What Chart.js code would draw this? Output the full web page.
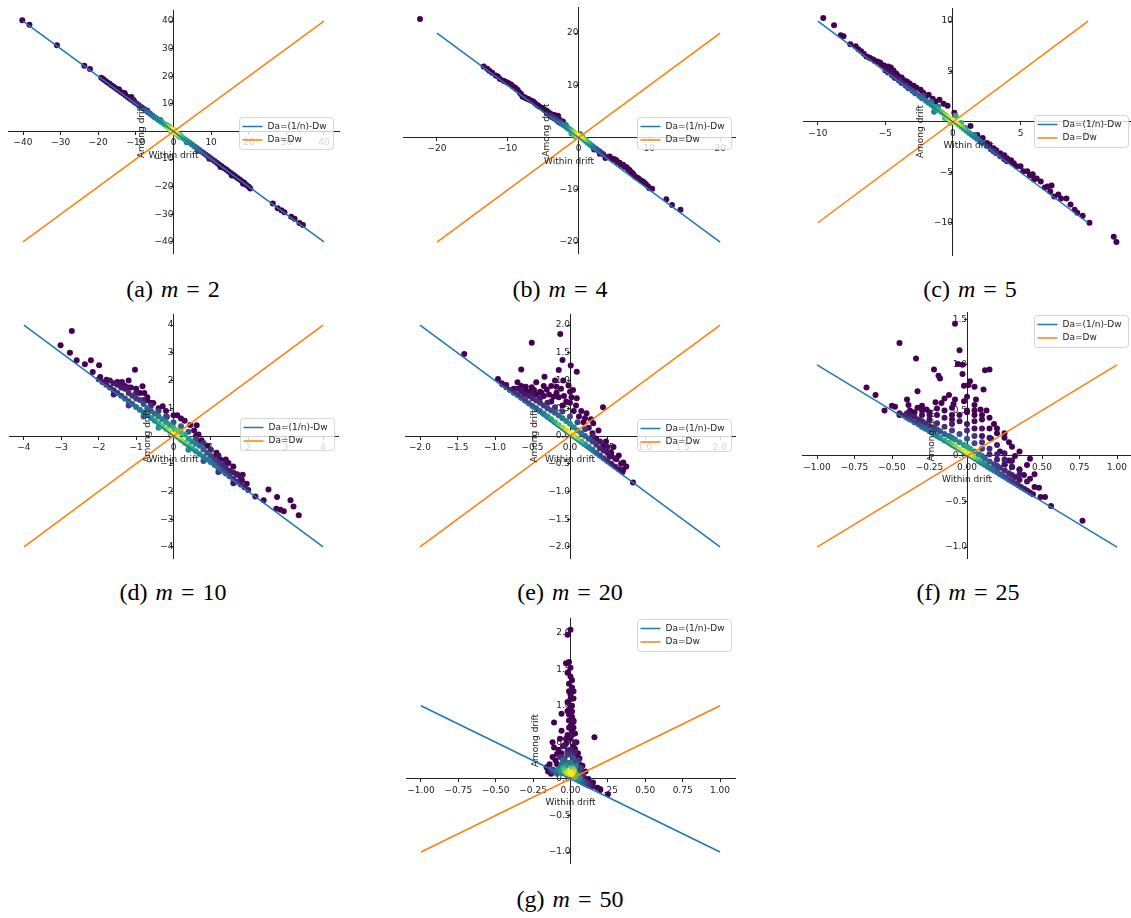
<!DOCTYPE html>
<html>
<head>
<meta charset="utf-8">
<script src="https://cdn.jsdelivr.net/npm/chart.js@4.4.0/dist/chart.umd.min.js"></script>
<style>
html, body { margin: 0; padding: 0; background: #fff; width: 1131px; height: 918px; overflow: hidden; position: relative; }
canvas { position: absolute; }
.cap { position: absolute; font-family: "Liberation Serif", serif; font-size: 24px; word-spacing: 2px;
       transform: translate(-50%, -50%); white-space: nowrap; color: #000; }
</style>
</head>
<body>
<script>
// ---- data ----
const panelTags = ["(a)", "(b)", "(c)", "(d)", "(e)", "(f)", "(g)"];
const mValues = [2, 4, 5, 10, 20, 25, 50];
const lineNames = ["Da=(1/n)-Dw", "Da=Dw"];
const axisNames = ["Within drift", "Among drift"];
const lineSpan = [40, 20, 10, 4, 2, 1, 1];

const xRange = [[-44, 44], [-24.8, 22.1], [-11.1, 13.4], [-4.4, 4.4], [-2.2, 2.2], [-1.1, 1.1], [-1.1, 1.1]];
const yRange = [[-44, 44], [-22.1, 25.0], [-13.2, 11.3], [-4.4, 4.4], [-2.2, 2.2], [-1.12, 1.58], [-1.15, 2.2]];
const xTicks = [
  [-40, -30, -20, -10, 0, 10, 20, 30, 40],
  [-20, -10, 0, 10, 20],
  [-10, -5, 0, 5, 10],
  [-4, -3, -2, -1, 0, 1, 2, 3, 4],
  [-2, -1.5, -1, -0.5, 0, 0.5, 1, 1.5, 2],
  [-1, -0.75, -0.5, -0.25, 0, 0.25, 0.5, 0.75, 1],
  [-1, -0.75, -0.5, -0.25, 0, 0.25, 0.5, 0.75, 1]
];
const yTicks = [
  [-40, -30, -20, -10, 0, 10, 20, 30, 40],
  [-20, -10, 0, 10, 20],
  [-10, -5, 0, 5, 10],
  [-4, -3, -2, -1, 0, 1, 2, 3, 4],
  [-2, -1.5, -1, -0.5, 0, 0.5, 1, 1.5, 2],
  [-1, -0.5, 0, 0.5, 1, 1.5],
  [-1, -0.5, 0, 0.5, 1, 1.5, 2]
];
const xDec = [0, 0, 0, 0, 1, 2, 2];
const yDec = [0, 0, 0, 0, 1, 1, 1];

// points: [within drift, among drift, density level 0..1 (omitted = 0)]
const ptsA = [
  [-40.2,40.3],[-38.3,38.7],[-31.0,31.2],[-23.7,23.8],[-22.2,22.6],
  [-19.2,19.5],[-18.7,19.0],[-18.2,18.5],[-17.6,17.8],[-17.0,17.3],[-16.4,16.7],[-15.8,16.1],[-15.2,15.5],
  [-14.6,14.9],[-14.0,14.3],[-13.4,13.8],[-12.8,13.1],[-12.2,12.5],[-11.2,12.5],[-11.6,11.9],[-14.5,15.3],[-13.0,13.9],
  [-11.0,11.3,0.05],[-10.4,10.7,0.06],[-9.8,10.1,0.08],[-9.2,9.5,0.1],[-8.6,8.9,0.12],[-8.0,8.3,0.15],
  [-7.4,7.7,0.2],[-6.8,7.0,0.25],[-6.2,6.4,0.3],[-5.6,5.8,0.35],[-5.0,5.2,0.4],[-4.4,4.6,0.45],[-3.8,4.0,0.5],
  [-3.2,3.4,0.55],[-2.6,2.8,0.62],[-2.0,2.2,0.7],[-1.5,1.7,0.8],[-1.0,1.2,0.88],[-0.5,0.7,0.95],[0.0,0.2,1.0],
  [0.5,-0.3,0.95],[1.0,-0.8,0.88],[1.5,-1.3,0.8],[2.0,-1.8,0.7],[2.6,-2.4,0.62],[3.2,-3.0,0.55],[3.8,-3.6,0.5],
  [4.4,-4.2,0.45],[5.0,-4.8,0.4],[5.6,-5.4,0.35],[6.2,-6.0,0.3],[6.8,-6.6,0.25],[7.4,-7.2,0.2],[8.0,-7.8,0.15],
  [8.6,-8.4,0.12],[9.2,-9.0,0.1],[9.8,-9.6,0.08],[10.4,-10.2,0.06],[11.0,-10.8,0.05],
  [-10.6,11.4,0.03],[-7.0,7.6,0.1],[-3.5,4.2,0.3],[-1.2,1.8,0.6],[0.4,0.4,0.7],[-0.8,0.5,0.75],[1.6,-1.9,0.6],
  [3.5,-3.9,0.35],[6.5,-6.9,0.15],[9.5,-9.9,0.05],
  [-0.3,0.6,0.97],[0.3,0.0,0.97],[-0.7,0.9,0.9],[0.7,-0.5,0.9],[-0.2,-0.1,0.85],[-1.0,0.8,0.75],[1.0,-1.2,0.7],
  [-1.8,2.3,0.6],[1.8,-1.4,0.6],
  [11.6,-11.4],[12.2,-12.0],[12.8,-12.6],[13.4,-13.2],[14.0,-13.8],[14.6,-14.4],[15.2,-15.0],[15.8,-15.6],
  [16.4,-16.2],[17.0,-16.8],[17.6,-17.4],[18.2,-18.0],[18.8,-18.6],[19.4,-19.4],[20.0,-20.0],[20.4,-20.6],
  [12.5,-12.9],[15.5,-15.9],[18.5,-18.9],
  [26.4,-26.1],[27.7,-27.8],[28.7,-28.5],[29.5,-29.2],[31.3,-30.9],[32.2,-31.6],[33.5,-33.1],[34.4,-33.9]
];
const ptsB = [
  [-22.4,22.7],[-13.4,13.6],[-12.6,12.8],[-11.1,11.2],[-10.6,10.9],[-10.0,10.5],[-9.5,10.1],[-9.0,9.6],
  [-8.6,9.1],[-7.9,7.8],[-7.4,7.5],[-6.9,7.2],[-6.4,6.9],[-5.9,6.3],[-5.5,5.9],[-5.0,5.5],[-4.6,5.2],
  [-4.0,4.6],[-3.4,4.3],[-2.9,4.2],[-2.2,3.1],
  [-12.9,13.2],[-12.2,12.4],[-11.7,11.9],[-11.4,11.7],[-10.3,10.7],[-9.8,10.3],[-9.3,9.8],[-8.8,9.3],
  [-8.3,8.6],[-8.1,8.3],[-7.6,7.7],[-7.1,7.4],[-6.6,7.0],[-6.2,6.6],[-5.7,6.1],[-5.2,5.7],[-4.8,5.3],
  [-4.3,4.9],[-3.7,4.3],[-3.2,3.9],[-2.7,3.4],
  [-4.5,4.7,0.05],[-4.0,4.2,0.1],[-3.5,3.7,0.15],[-3.0,3.2,0.2],[-2.5,2.7,0.3],[-2.0,2.3,0.4],[-1.6,1.9,0.5],
  [-1.2,1.5,0.6],[-0.8,1.1,0.75],[-0.4,0.7,0.9],[0.0,0.3,1.0],[0.4,-0.1,0.95],[0.8,-0.5,0.8],[1.2,-0.9,0.65],
  [1.6,-1.3,0.5],[2.0,-1.7,0.38],[2.5,-2.2,0.25],[3.0,-2.7,0.15],[3.5,-3.2,0.1],[4.0,-3.7,0.05],
  [-3.8,3.95,0.12],[-3.2,3.45,0.18],[-2.8,2.95,0.25],[-2.2,2.5,0.35],[-1.8,2.1,0.45],[-1.4,1.7,0.55],
  [-1.0,1.3,0.68],[-0.6,0.9,0.82],[-0.2,0.5,0.95],[0.2,0.1,0.98],[0.6,-0.3,0.88],[1.0,-0.7,0.72],
  [1.4,-1.1,0.58],[1.8,-1.5,0.45],[2.2,-1.95,0.3],[2.8,-2.5,0.2],[3.2,-2.95,0.12],
  [-1.0,0.8,0.55],[-0.5,0.3,0.7],[0.5,0.2,0.6],[1.0,-0.4,0.55],[-1.8,2.4,0.3],[-2.6,3.0,0.15],[0.2,0.7,0.5],
  [2.2,-2.3],[3.0,-3.1],[3.8,-3.9],[4.4,-3.6],[5.0,-4.1],[5.3,-4.3],[5.8,-4.8],[6.3,-5.2],[6.8,-5.7],
  [7.2,-6.2],[7.6,-6.8],[8.0,-7.5],[8.5,-7.9],[9.1,-8.4],[9.5,-8.9],[10.0,-9.7],[10.4,-9.8],
  [4.8,-4.2],[5.5,-4.7],[6.0,-5.2],[6.5,-5.6],[7.0,-6.1],[7.4,-6.6],[7.8,-7.1],[8.3,-7.7],[8.8,-8.2],
  [9.3,-8.7],[9.8,-9.3],
  [12.4,-11.8],[13.2,-12.9],[14.4,-13.8]
];
const ptsC = [
  [-9.6,10.3],[-8.8,9.6],[-8.3,8.6],[-8.1,8.5],[-7.2,7.5],[-6.8,7.0],[-6.4,6.5],[-6.1,6.3],[-5.9,6.2],
  [-5.6,6.0],[-5.4,5.9],[-5.1,5.6],[-4.8,5.5],[-4.6,5.4],[-4.4,5.1],[-4.1,4.6],[-3.8,4.4],[-3.4,4.0],
  [-2.9,3.6],[-2.4,3.2],[-1.8,2.7],[-1.0,2.2],[-0.4,1.6],[0.1,0.9],
  [-6.6,6.75],[-6.2,6.4],[-5.8,6.05],[-5.3,5.7],[-5.0,5.4],[-4.7,5.2],[-4.2,4.8],[-3.9,4.4],[-3.6,4.1],
  [-3.2,3.8],[-2.7,3.4],[-2.2,2.9],[-2.0,2.6],[-1.5,2.3],[-1.3,2.0],[-0.7,1.8],[-7.0,7.2],[-7.6,7.7],
  [-5.0,5.1,0.03],[-4.5,4.6,0.06],[-4.0,4.1,0.1],[-3.5,3.6,0.15],[-3.0,3.1,0.22],[-2.5,2.6,0.3],[-2.0,2.1,0.4],
  [-1.6,1.7,0.5],[-1.2,1.3,0.6],[-0.8,0.9,0.75],[-0.4,0.5,0.9],[0.0,0.1,1.0],[0.4,-0.3,0.9],[0.8,-0.7,0.72],
  [1.2,-1.1,0.55],[1.6,-1.5,0.42],[2.0,-1.9,0.3],[2.5,-2.4,0.2],[3.0,-2.9,0.12],[3.5,-3.4,0.07],[4.0,-3.9,0.03],
  [-4.8,4.9,0.05],[-4.3,4.35,0.08],[-3.8,3.85,0.12],[-3.3,3.35,0.18],[-2.8,2.85,0.26],[-2.3,2.35,0.35],
  [-1.8,1.9,0.45],[-1.4,1.5,0.55],[-1.0,1.1,0.68],[-0.6,0.7,0.82],[-0.2,0.3,0.95],[0.2,-0.1,0.95],
  [0.6,-0.5,0.8],[1.0,-0.9,0.63],[1.4,-1.3,0.48],[1.8,-1.7,0.36],[2.2,-2.1,0.25],[2.8,-2.7,0.15],
  [3.2,-3.1,0.1],[3.8,-3.7,0.05],[-1.6,2.0,0.35],[-1.1,1.5,0.45],[-2.2,2.6,0.2],[0.9,-0.6,0.5],[1.6,-1.3,0.35],
  [-0.6,0.4,0.7],[0.2,0.6,0.6],[-1.4,1.0,0.45],[0.6,-0.1,0.65],[-0.2,-0.1,0.8],
  [1.3,-0.4],[1.8,-1.3],[2.5,-2.1],[3.0,-2.6],[3.5,-3.1],[4.0,-3.6],[4.5,-4.1],[5.0,-4.4],[5.5,-4.9],
  [5.9,-5.2],[6.2,-5.6],[6.5,-5.9],[7.0,-6.4],[7.3,-6.3],[7.5,-7.4],[7.8,-7.2],[8.4,-7.6],[9.2,-9.0],
  [4.2,-3.9],[4.7,-4.4],[5.2,-4.9],[5.7,-5.3],[6.0,-5.7],[6.8,-6.5],[7.2,-6.9],[8.0,-7.6],[8.7,-8.2],
  [9.0,-8.7],[9.6,-9.3],[2.2,-1.6],[2.7,-2.3],[3.2,-2.8],[3.8,-3.3],[4.3,-3.8],
  [10.1,-10.0],[11.9,-11.4],[12.1,-11.9]
];
const ptsD = [
  [-2.72,3.79],[-3.02,3.27],[-2.77,3.0],[-2.59,2.73],[-2.37,2.59],[-2.21,2.73],[-2.16,2.31],[-1.99,2.55],
  [-1.96,2.13],[-1.79,2.03],[-1.38,1.95],[-1.03,2.39],[-1.14,1.75],[-0.83,1.79],[-0.78,1.55],[-0.71,1.29],
  [-0.54,1.19],[-0.29,1.07],[-0.18,0.69],[0.2,0.63],[0.0,0.75],[0.62,0.39],[0.67,0.05],[0.67,-0.22],
  [1.07,-0.76],[1.25,-0.85],[1.47,-0.97],[1.70,-1.38],[1.83,-1.6],[1.96,-1.72],[2.19,-2.18],[2.41,-2.32],
  [2.54,-1.93],[2.77,-2.2],[2.75,-2.62],[2.86,-2.66],[2.95,-2.71],[3.13,-2.32],[3.21,-2.54],[3.35,-2.86],
  [-1.5,1.95],[-1.3,1.8],[-1.2,2.0],[-1.0,1.7],[-0.9,1.55],[-0.7,1.4],[-0.6,1.2],[-0.4,1.0],[-0.2,0.9],
  [0.1,0.75],[0.3,0.55],[0.45,0.4],[0.55,0.2],[0.6,0.0],[0.75,-0.15],[0.9,-0.35],[1.15,-0.6],[1.4,-0.85],
  [1.6,-1.1],[1.85,-1.4],
  [-2.0,2.05,0.05],[-1.8,1.85,0.08],[-1.6,1.65,0.12],[-1.4,1.45,0.18],[-1.2,1.25,0.25],[-1.0,1.05,0.33],
  [-0.8,0.85,0.42],[-0.6,0.65,0.52],[-0.4,0.45,0.65],[-0.2,0.25,0.8],[0.0,0.05,1.0],[0.2,-0.15,0.85],
  [0.4,-0.35,0.68],[0.6,-0.55,0.55],[0.8,-0.75,0.45],[1.0,-0.95,0.36],[1.2,-1.15,0.28],[1.4,-1.35,0.2],
  [1.6,-1.55,0.14],[1.8,-1.75,0.08],[2.0,-1.95,0.05],
  [-1.9,1.95,0.06],[-1.7,1.75,0.1],[-1.5,1.55,0.15],[-1.3,1.35,0.22],[-1.1,1.15,0.29],[-0.9,0.95,0.38],
  [-0.7,0.75,0.47],[-0.5,0.55,0.58],[-0.3,0.35,0.72],[-0.1,0.15,0.9],[0.1,-0.05,0.95],[0.3,-0.25,0.76],
  [0.5,-0.45,0.6],[0.7,-0.65,0.5],[0.9,-0.85,0.4],[1.1,-1.05,0.32],[1.3,-1.25,0.24],[1.5,-1.45,0.17],
  [1.7,-1.65,0.11],[1.9,-1.85,0.06],
  [-1.7,2.0,0.05],[-1.5,1.85,0.06],[-1.3,1.7,0.08],[-1.1,1.45,0.15],[-0.9,1.3,0.18],[-0.7,1.0,0.3],
  [-0.5,0.8,0.35],[-0.3,0.6,0.45],[-0.1,0.4,0.55],[0.1,0.2,0.75],[0.3,0.05,0.6],[0.5,-0.2,0.45],
  [0.7,-0.35,0.35],[0.9,-0.6,0.25],[1.1,-0.85,0.18],[1.3,-1.05,0.12],[1.5,-1.25,0.08],[1.7,-1.4,0.05],
  [-1.6,1.9,0.06],[-1.4,1.75,0.08],[-1.2,1.55,0.12],[-1.0,1.35,0.17],[-0.8,1.15,0.24],[-0.6,0.9,0.32],
  [-0.4,0.7,0.42],[-0.2,0.5,0.52],[0.0,0.3,0.65],[0.2,0.12,0.7],[0.4,-0.1,0.55],[0.6,-0.28,0.42],
  [0.8,-0.48,0.3],[1.0,-0.72,0.22],[1.2,-0.95,0.15],[1.4,-1.15,0.1],[1.6,-1.32,0.06],[1.8,-1.5,0.04],
  [-1.4,1.9,0.03],[-1.2,1.75,0.04],[-1.0,1.55,0.06],[-0.8,1.3,0.08],[-0.6,1.1,0.12],[-0.4,0.9,0.15],
  [-0.2,0.7,0.2],[0.0,0.5,0.25],[0.2,0.35,0.3],[0.4,0.15,0.25],[0.6,-0.1,0.18],[0.8,-0.25,0.12],
  [1.0,-0.5,0.08],[1.2,-0.7,0.05],[1.4,-0.95,0.03],
  [-1.2,1.1,0.15],[-0.8,0.7,0.3],[-0.4,0.3,0.5],[0.4,-0.5,0.45],[0.8,-0.9,0.25],[1.2,-1.3,0.12],
  [-1.6,1.5,0.06],[1.6,-1.7,0.05]
];
const ptsE = [
  [-1.41,1.48],[-0.51,1.68],[-0.13,1.84],[-0.10,1.37],[0.01,1.27],[0.09,1.16],[-0.15,1.19],[-0.65,1.2],
  [-0.96,1.03],[-0.91,0.95],[-0.70,0.97],[-0.59,0.89],[-0.45,0.97],[-0.34,1.07],[-0.2,1.0],[-0.09,1.0],
  [-0.02,0.91],[0.04,0.83],[-0.51,0.88],[-0.40,0.80],[-0.31,0.84],[-0.18,0.89],[-0.22,0.71],[0.09,0.68],
  [0.22,0.41],[0.44,0.52],[0.31,0.23],[0.33,-0.04],[0.44,-0.19],[0.53,-0.37],[0.71,-0.48],[0.71,-0.61],
  [0.84,-0.84],
  [-0.45,0.75],[-0.35,0.72],[-0.25,0.62],[-0.15,0.7],[-0.1,0.55],[0.0,0.6],[0.05,0.45],[0.12,0.35],
  [0.18,0.25],[0.25,0.15],[0.3,0.05],[0.35,-0.05],[0.45,-0.2],[0.55,-0.3],[0.62,-0.42],[0.68,-0.5],
  [-0.35,0.9],[-0.55,0.8],[-0.65,0.9],
  [-0.6,0.82],[-0.48,0.83],[-0.38,0.78],[-0.28,0.75],[-0.18,0.78],[-0.08,0.72],[0.02,0.7],[0.08,0.55],
  [0.15,0.45],[-0.05,0.62],[-0.25,0.9],[-0.12,0.85],[0.0,0.8],[0.2,0.32],[0.28,0.3],[0.38,0.1],
  [0.48,-0.1],[0.58,-0.2],[0.65,-0.35],[0.75,-0.55],[-0.75,0.85],[-0.85,0.92],
  [-0.9,0.93,0.05],[-0.8,0.83,0.08],[-0.7,0.74,0.12],[-0.6,0.64,0.18],[-0.5,0.54,0.25],[-0.4,0.45,0.35],
  [-0.3,0.35,0.5],[-0.2,0.25,0.65],[-0.1,0.15,0.85],[0.0,0.05,1.0],[0.1,-0.05,0.8],[0.2,-0.15,0.55],
  [0.3,-0.25,0.35],[0.4,-0.35,0.2],[0.5,-0.45,0.1],[0.6,-0.55,0.05],[0.7,-0.65,0.02],
  [-0.85,0.88,0.06],[-0.75,0.78,0.1],[-0.65,0.69,0.15],[-0.55,0.59,0.21],[-0.45,0.5,0.3],[-0.35,0.4,0.42],
  [-0.25,0.3,0.58],[-0.15,0.2,0.75],[-0.05,0.1,0.93],[0.05,0.0,0.9],[0.15,-0.1,0.68],[0.25,-0.2,0.45],
  [0.35,-0.3,0.28],[0.45,-0.4,0.15],[0.55,-0.5,0.07],[0.65,-0.6,0.03],
  [-0.7,0.85,0.04],[-0.6,0.75,0.06],[-0.5,0.68,0.1],[-0.4,0.6,0.14],[-0.3,0.5,0.2],[-0.2,0.42,0.28],
  [-0.1,0.32,0.4],[0.0,0.22,0.5],[0.1,0.1,0.45],[0.2,0.0,0.3],[0.3,-0.1,0.18],[0.4,-0.22,0.1],
  [0.5,-0.3,0.05],[0.6,-0.4,0.02],
  [-0.65,0.8,0.05],[-0.55,0.72,0.08],[-0.45,0.64,0.12],[-0.35,0.55,0.17],[-0.25,0.46,0.24],[-0.15,0.37,0.34],
  [-0.05,0.27,0.45],[0.05,0.16,0.48],[0.15,0.05,0.38],[0.25,-0.05,0.24],[0.35,-0.16,0.14],[0.45,-0.26,0.07],
  [0.55,-0.36,0.03],
  [-0.5,0.75,0.04],[-0.4,0.68,0.06],[-0.3,0.6,0.09],[-0.2,0.52,0.13],[-0.1,0.44,0.18],[0.0,0.35,0.22],
  [0.1,0.25,0.2],[0.2,0.12,0.15],[0.3,0.0,0.09],[0.4,-0.1,0.05],[0.5,-0.2,0.03]
];
const ptsF = [
  [-0.08,1.45],[-0.45,1.24],[-0.05,1.16],[-0.34,1.07],[-0.06,1.01],[-0.03,1.0],[0.12,0.94],[0.15,0.95],
  [-0.22,0.95],[-0.19,0.88],[-0.18,0.85],[-0.03,0.9],[0.02,0.82],[0.01,0.78],[-0.02,0.77],[0.05,0.76],
  [0.11,0.73],[-0.67,0.75],[-0.61,0.67],[-0.33,0.71],[-0.12,0.67],[-0.48,0.54],[-0.39,0.56],[-0.33,0.53],
  [-0.21,0.59],[-0.17,0.58],[-0.09,0.57],[-0.02,0.6],[0.05,0.56],[0.09,0.51],[0.13,0.5],[-0.27,0.51],
  [-0.1,0.45],[0.16,0.19],[0.22,0.05],[0.42,-0.03],[0.35,-0.15],[0.38,-0.21],[0.45,-0.34],[0.49,-0.45],
  [0.56,-0.55],[0.77,-0.71],
  [0.05,0.45],[0.1,0.4],[0.15,0.3],[0.2,0.25],[0.25,0.2],[0.18,0.35],[0.3,0.1],[0.32,0.0],[0.28,-0.05],
  [-0.55,0.5],[-0.45,0.45],[-0.38,0.5],[-0.3,0.55],[-0.25,0.48],[-0.15,0.5],[0.0,0.48],
  [-0.35,0.48],[-0.3,0.5],[-0.2,0.52],[-0.1,0.53],[0.05,0.5],[0.1,0.45],[0.15,0.42],[0.2,0.3],[0.25,0.25],
  [0.28,0.15],[0.35,0.05],[0.4,-0.1],[0.45,-0.2],[-0.08,0.62],[0.0,0.65],[0.06,0.62],[-0.15,0.63],
  [-0.5,0.55],[-0.4,0.62],[0.3,-0.12],[0.42,-0.25],[0.48,-0.35],[0.52,-0.45],
  [-0.25,0.45,0.03],[-0.15,0.42,0.04],[-0.05,0.38,0.05],[0.05,0.38,0.04],[0.1,0.3,0.05],[0.15,0.2,0.06],
  [0.2,0.12,0.06],[0.25,0.03,0.05],[0.3,-0.05,0.04],[0.35,-0.15,0.03],[-0.1,0.35,0.08],[0.0,0.28,0.12],
  [0.05,0.22,0.15],[0.1,0.15,0.14],[0.15,0.08,0.12],[0.2,0.02,0.1],[0.25,-0.04,0.08],[0.3,-0.12,0.06],
  [0.35,-0.2,0.05],[0.4,-0.28,0.04],
  [-0.45,0.47,0.08],[-0.4,0.42,0.12],[-0.35,0.37,0.18],[-0.3,0.32,0.25],[-0.25,0.27,0.35],[-0.2,0.22,0.48],
  [-0.15,0.17,0.62],[-0.1,0.12,0.75],[-0.05,0.07,0.9],[0.0,0.03,1.0],[0.04,-0.01,0.85],[0.08,-0.06,0.6],
  [0.12,-0.1,0.45],[0.16,-0.14,0.35],[0.2,-0.18,0.28],[0.24,-0.22,0.22],[0.28,-0.26,0.17],[0.32,-0.3,0.12],
  [0.36,-0.34,0.08],[0.4,-0.38,0.05],[0.44,-0.42,0.03],
  [-0.42,0.445,0.1],[-0.38,0.4,0.15],[-0.32,0.345,0.22],[-0.28,0.3,0.3],[-0.22,0.245,0.42],[-0.18,0.2,0.55],
  [-0.12,0.145,0.68],[-0.08,0.1,0.82],[-0.02,0.05,0.95],[0.02,0.01,0.95],[0.06,-0.03,0.72],[0.1,-0.08,0.52],
  [0.14,-0.12,0.4],[0.18,-0.16,0.31],[0.22,-0.2,0.25],[0.26,-0.24,0.2],[0.3,-0.28,0.14],[0.34,-0.32,0.1],
  [0.38,-0.36,0.06],[0.42,-0.4,0.04],
  [-0.4,0.47,0.05],[-0.35,0.43,0.07],[-0.3,0.38,0.1],[-0.25,0.33,0.15],[-0.2,0.29,0.22],[-0.15,0.24,0.3],
  [-0.1,0.2,0.4],[-0.05,0.15,0.5],[0.0,0.1,0.6],[0.05,0.05,0.5],[0.1,0.0,0.35],[0.15,-0.06,0.25],
  [0.2,-0.11,0.18],[0.25,-0.16,0.12],[0.3,-0.21,0.08],[0.35,-0.26,0.05],
  [-0.38,0.45,0.06],[-0.32,0.4,0.09],[-0.28,0.36,0.12],[-0.22,0.31,0.18],[-0.18,0.27,0.26],[-0.12,0.22,0.35],
  [-0.08,0.18,0.45],[-0.02,0.12,0.55],[0.02,0.08,0.58],[0.08,0.02,0.42],[0.12,-0.03,0.3],[0.18,-0.09,0.2],
  [0.22,-0.13,0.15],[0.28,-0.19,0.1],[0.32,-0.23,0.06],
  [-0.3,0.45,0.04],[-0.25,0.4,0.06],[-0.2,0.36,0.1],[-0.15,0.32,0.14],[-0.1,0.28,0.18],[-0.05,0.24,0.22],
  [0.0,0.19,0.25],[0.05,0.14,0.22],[0.1,0.08,0.16],[0.15,0.02,0.1],[0.2,-0.04,0.07],[0.25,-0.09,0.04],
  [-0.2,0.45,0.02],[-0.1,0.4,0.03],[0.0,0.35,0.05],[0.05,0.3,0.04],[0.1,0.22,0.03],[-0.05,0.45,0.02],[0.0,0.5,0.02]
];
const ptsG = [
  [0.0,2.04],[-0.02,1.97],[-0.01,1.6],[-0.03,1.58],[-0.02,1.45],[0.0,1.52],[-0.01,1.3],[0.01,1.25],
  [0.02,1.2],[0.0,1.09],[0.01,1.0],[-0.02,0.93],[-0.11,0.77],[-0.06,0.89],[0.16,0.57],[-0.06,0.66],
  [0.01,0.75],[-0.12,0.5],[-0.11,0.43],[-0.09,0.34],[-0.07,0.55],[-0.03,0.48],[-0.01,0.39],[0.03,0.41],
  [0.04,0.3],[0.06,0.2],[0.09,0.02],[0.13,-0.09],[0.25,-0.21],[-0.16,0.16],[-0.13,0.07],
  [0.0,1.15],[0.01,0.85],[-0.01,0.8],[0.02,0.7],[-0.02,0.6],[0.03,0.62],[0.0,0.55],[0.04,0.5],
  [-0.05,0.45],[-0.08,0.4],[0.05,0.35],[0.03,0.25],[-0.1,0.25],[-0.12,0.3],[0.07,0.1],
  [0.0,1.4],[0.01,1.35],[-0.01,1.2],[0.02,1.1],[-0.02,1.05],[0.0,0.98],[0.01,0.92],[-0.01,0.88],
  [0.02,0.78],[0.0,0.72],[0.01,0.65],[-0.03,0.55],[0.02,0.45],[-0.06,0.35],[0.06,0.28],[-0.09,0.2],
  [0.08,0.18],[-0.14,0.2],[-0.15,0.1],[0.1,0.1],[0.12,0.0],[0.15,-0.05],[0.18,-0.12],[0.2,-0.15],
  [0.0,0.08,1.0],[-0.02,0.05,0.9],[0.02,0.1,0.9],[-0.04,0.12,0.75],[0.01,0.15,0.7],[-0.06,0.08,0.6],
  [0.03,0.03,0.7],[0.05,0.0,0.5],[-0.03,0.18,0.5],[0.0,0.22,0.4],[-0.08,0.14,0.4],[-0.1,0.1,0.3],
  [0.06,-0.03,0.35],[0.08,-0.05,0.25],[0.1,-0.07,0.18],[0.12,-0.09,0.1],[-0.12,0.13,0.15],[-0.05,0.25,0.3],
  [0.02,0.28,0.25],[-0.02,0.33,0.15],[0.04,0.2,0.3],[0.06,0.12,0.2],[0.08,0.05,0.15],[-0.07,0.3,0.12],
  [0.0,0.4,0.08],[-0.04,0.45,0.05],[0.03,0.5,0.04],[0.01,0.6,0.03],[-0.01,0.7,0.02],[0.02,0.8,0.02],[0.0,0.9,0.01],
  [-0.01,0.1,0.95],[0.01,0.06,0.95],[-0.03,0.08,0.85],[0.02,0.13,0.8],[-0.05,0.15,0.6],[0.04,0.06,0.65],
  [0.06,0.02,0.45],[-0.07,0.11,0.5],[-0.02,0.22,0.35],[0.03,0.17,0.45],[-0.09,0.07,0.3],[0.07,-0.01,0.3],
  [0.09,-0.03,0.2],[0.11,-0.06,0.13],[-0.11,0.1,0.2],[-0.13,0.11,0.1],[0.13,-0.08,0.07],[0.15,-0.1,0.04],
  [-0.04,0.28,0.2],[0.01,0.32,0.15],[-0.06,0.2,0.35],[0.05,0.25,0.18],[0.07,0.15,0.15],[-0.02,0.38,0.08],[0.03,0.36,0.07]
];
const points = [ptsA, ptsB, ptsC, ptsD, ptsE, ptsF, ptsG];

// ---- page layout (plot area boxes, legend boxes, captions) ----
const plotBox = [[8,10,331,243],[403,7,332,246],[803,8,331,247],[9,314,329,244],[405,314,330,244],[802,312,330,246],[406,618,329,245]];
const legendAt = [[239,117],[637,117],[1034,115],[240,418],[637,419],[1034,315],[637,619]];
const captionAt = [[173,289],[560,289],[970,289],[173,592],[570,592],[968,592],[570,899]];
const M = 20;

const viridis = ['#440154','#482878','#3e4989','#31688e','#26828e','#1f9e89','#35b779','#6ece58','#b5de2b','#fde725'];
function hex(c) { return [1, 3, 5].map(i => parseInt(c.substr(i, 2), 16)); }
function cmap(t) {
  t = Math.max(0, Math.min(1, t));
  const s = t * (viridis.length - 1), i = Math.min(Math.floor(s), viridis.length - 2), f = s - i;
  const a = hex(viridis[i]), b = hex(viridis[i + 1]);
  return 'rgb(' + a.map((v, k) => Math.round(v + (b[k] - v) * f)).join(',') + ')';
}
function fmt(v, d) { return (Math.abs(v) < 1e-9 ? 0 : v).toFixed(d).replace('-', '\u2212'); }

const decor = {
  id: 'decor',
  afterDatasetsDraw(chart, args, o) {
    const {ctx, chartArea: ca, scales} = chart;
    const x0 = scales.x.getPixelForValue(0);
    const y0 = scales.y.getPixelForValue(0);
    ctx.save();
    ctx.font = '9px "DejaVu Sans"';
    ctx.fillStyle = '#222';
    ctx.textAlign = 'center';
    ctx.textBaseline = 'middle';
    ctx.fillText(axisNames[0], (ca.left + ca.right) / 2, y0 + 24);
    let w = 0;
    o.yTicks.forEach(v => { w = Math.max(w, ctx.measureText(fmt(v, o.yDec)).width); });
    ctx.translate(x0 - 6 - w - 7, (ca.top + ca.bottom) / 2);
    ctx.rotate(-Math.PI / 2);
    ctx.fillText(axisNames[1], 0, 0);
    ctx.restore();
  },
  afterDraw(chart, args, o) {
    const ctx = chart.ctx;
    const lx = o.legend[0] + 0.5, ly = o.legend[1] + 0.5, lw = 94, lh = 32, r = 3;
    ctx.save();
    ctx.beginPath();
    ctx.moveTo(lx + r, ly);
    ctx.arcTo(lx + lw, ly, lx + lw, ly + lh, r);
    ctx.arcTo(lx + lw, ly + lh, lx, ly + lh, r);
    ctx.arcTo(lx, ly + lh, lx, ly, r);
    ctx.arcTo(lx, ly, lx + lw, ly, r);
    ctx.closePath();
    ctx.fillStyle = 'rgba(255,255,255,0.8)';
    ctx.fill();
    ctx.strokeStyle = 'rgba(204,204,204,0.8)';
    ctx.lineWidth = 1;
    ctx.stroke();
    ctx.font = '9px "DejaVu Sans"';
    ctx.textBaseline = 'middle';
    ctx.textAlign = 'left';
    chart.data.datasets.slice(0, 2).forEach((ds, i) => {
      const yy = ly + 9 + i * 13.5;
      ctx.strokeStyle = ds.borderColor;
      ctx.lineWidth = 1.5;
      ctx.beginPath(); ctx.moveTo(lx + 3, yy); ctx.lineTo(lx + 23, yy); ctx.stroke();
      ctx.fillStyle = '#222';
      ctx.fillText(ds.label, lx + 28, yy);
    });
    ctx.restore();
  }
};

Chart.defaults.font.family = '"DejaVu Sans"';
Chart.defaults.font.size = 9;
Chart.defaults.color = '#222';

function axis(range, ticks, dec, pos) {
  return {
    type: 'linear', min: range[0], max: range[1], position: pos, z: 1,
    afterBuildTicks: s => { s.ticks = ticks.map(v => ({value: v})); },
    ticks: {callback: v => fmt(v, dec), autoSkip: false, maxRotation: 0, padding: 3, color: '#222'},
    grid: {display: true, drawOnChartArea: false, drawTicks: true, tickLength: 3, tickColor: '#222', color: '#222'},
    border: {display: true, color: '#222', width: 1}
  };
}

points.forEach((pts, i) => {
  const b = plotBox[i];
  const cv = document.createElement('canvas');
  cv.width = b[2] + 2 * M;
  cv.height = b[3] + 2 * M;
  cv.style.left = (b[0] - M) + 'px';
  cv.style.top = (b[1] - M) + 'px';
  document.body.appendChild(cv);

  const sorted = pts.map(p => ({x: p[0], y: p[1], z: p.length > 2 ? p[2] : 0})).sort((a, c) => a.z - c.z);
  const L = lineSpan[i];
  new Chart(cv, {
    type: 'scatter',
    data: {
      datasets: [
        {label: lineNames[0], data: [{x: -L, y: L}, {x: L, y: -L}], showLine: true, borderColor: '#1f77b4', borderWidth: 1.5, pointRadius: 0},
        {label: lineNames[1], data: [{x: -L, y: -L}, {x: L, y: L}], showLine: true, borderColor: '#ff7f0e', borderWidth: 1.5, pointRadius: 0},
        {label: 'drift', data: sorted, pointRadius: 3, borderWidth: 0, pointBackgroundColor: sorted.map(p => cmap(p.z)), pointBorderWidth: 0}
      ]
    },
    options: {
      responsive: false, animation: false, devicePixelRatio: 1,
      layout: {padding: M},
      plugins: {
        legend: {display: false}, tooltip: {enabled: false},
        decor: {legend: [legendAt[i][0] - b[0] + M, legendAt[i][1] - b[1] + M], yTicks: yTicks[i], yDec: yDec[i]}
      },
      scales: {
        x: axis(xRange[i], xTicks[i], xDec[i], {y: 0}),
        y: axis(yRange[i], yTicks[i], yDec[i], {x: 0})
      }
    },
    plugins: [decor]
  });

  const cap = document.createElement('div');
  cap.className = 'cap';
  cap.style.left = captionAt[i][0] + 'px';
  cap.style.top = captionAt[i][1] + 'px';
  cap.innerHTML = panelTags[i] + ' <i>m</i> = ' + mValues[i];
  document.body.appendChild(cap);
});
</script>
</body>
</html>
